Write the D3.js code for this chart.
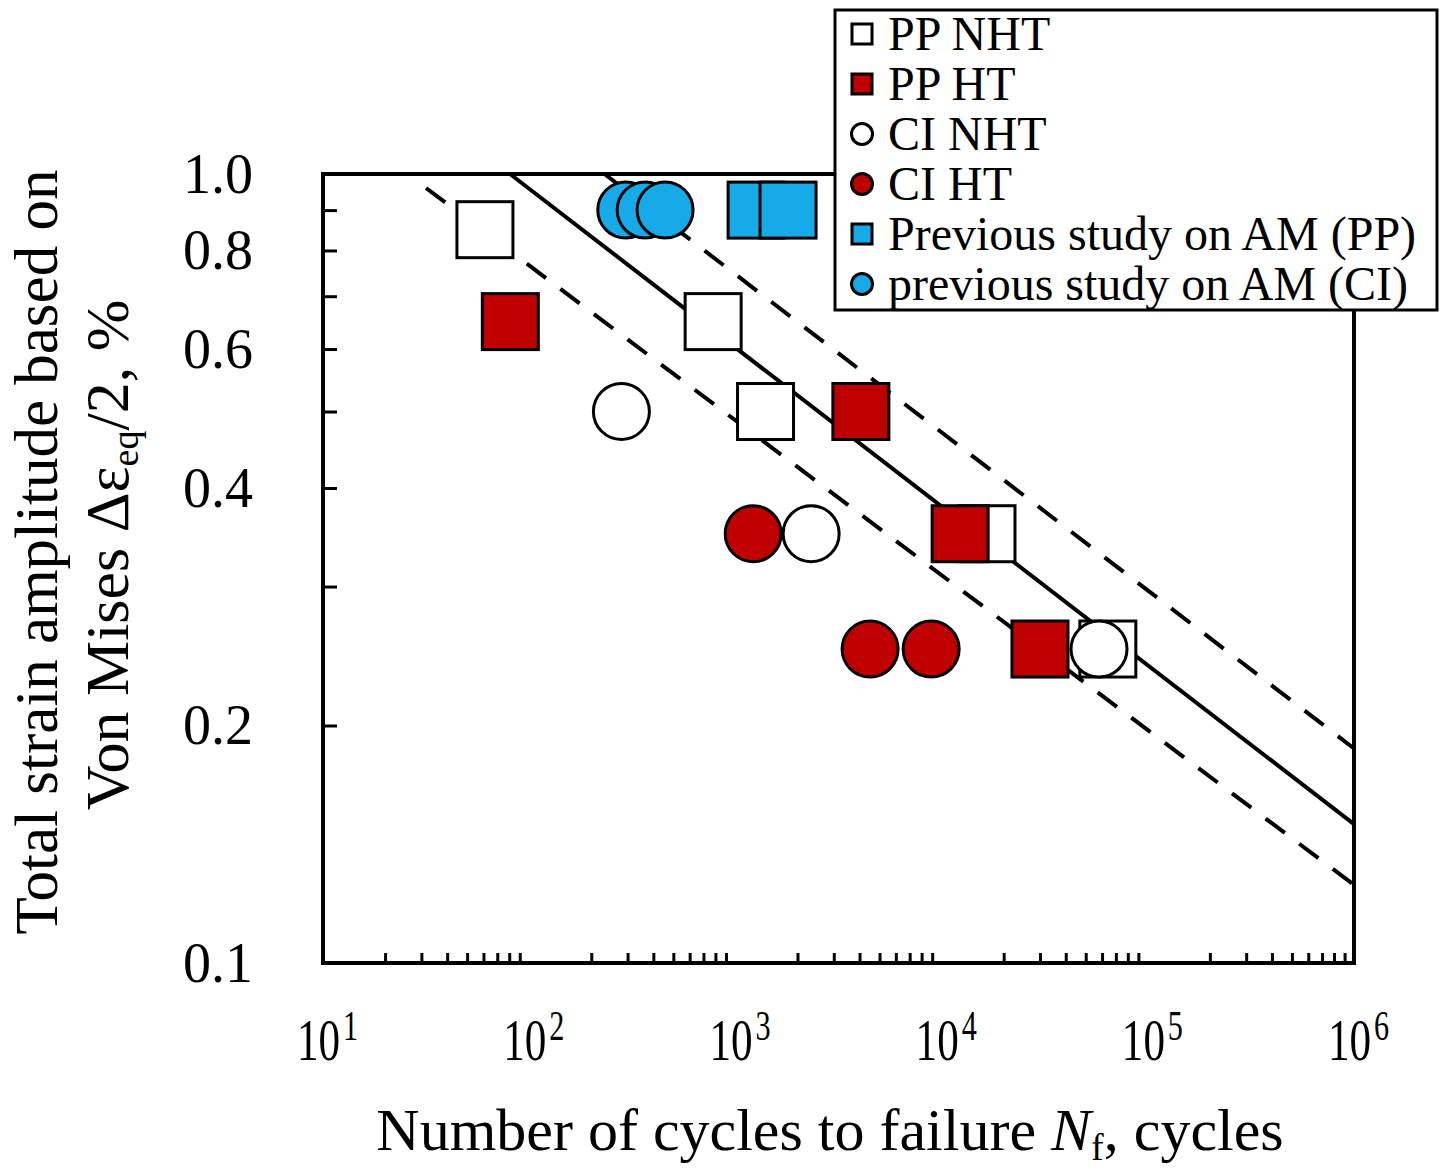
<!DOCTYPE html>
<html>
<head>
<meta charset="utf-8">
<script src="https://cdn.jsdelivr.net/npm/d3@7"></script>
<style>
  body { margin: 0; background: #fff; }
  text { font-family: "Liberation Serif", "Times New Roman", serif; fill: #000; }
</style>
</head>
<body>
<div id="root"></div>
<script>
var w = 1456, h = 1170;

// data (N = cycles, e = strain amplitude %)
var ppNhtN = [61, 780, 1400, 16600, 64000];
var ppNhtE = [0.85, 0.65, 0.50, 0.35, 0.25];
var ppHtN = [81, 4060, 12300, 30000];
var ppHtE = [0.65, 0.50, 0.35, 0.25];
var ciNhtN = [280, 2330, 58000];
var ciNhtE = [0.50, 0.35, 0.25];
var ciHtN = [1220, 4500, 8900];
var ciHtE = [0.35, 0.25, 0.25];
var prevPpN = [1260, 1800];
var prevPpE = [0.9, 0.9];
var prevCiN = [294, 365, 456];
var prevCiE = [0.9, 0.9, 0.9];

// fit line and scatter band end points
var fitN = [80.7, 1e6], fitE = [1.0, 0.150];
var upperN = [232, 1e6], upperE = [1.0, 0.187];
var lowerN = [31.6, 1e6], lowerE = [0.96, 0.1256];

var yLabelTicks = [0.1, 0.2, 0.4, 0.6, 0.8, 1.0];
var yMinorTicks = [0.2, 0.3, 0.4, 0.5, 0.6, 0.7, 0.8, 0.9];
var xDecades = [1, 2, 3, 4, 5, 6];

var legendNames = ['PP NHT', 'PP HT', 'CI NHT', 'CI HT', 'Previous study on AM (PP)', 'previous study on AM (CI)'];

var red = '#c00000', blue = '#16abe8';

var series = [
    { n: ppNhtN, e: ppNhtE, shape: 'square', fill: '#fff' },
    { n: ppHtN, e: ppHtE, shape: 'square', fill: red },
    { n: ciNhtN, e: ciNhtE, shape: 'circle', fill: '#fff' },
    { n: ciHtN, e: ciHtE, shape: 'circle', fill: red },
    { n: prevPpN, e: prevPpE, shape: 'square', fill: blue },
    { n: prevCiN, e: prevCiE, shape: 'circle', fill: blue }
];

var svg = d3.select('#root').append('svg').attr('width', w).attr('height', h);

var x = d3.scaleLog().domain([10, 1e6]).range([323, 1354]);
var y = d3.scaleLog().domain([0.1, 1]).range([963, 174]);

// x minor ticks (inside, bottom)
var xTicks = [];
xDecades.slice(0, 5).forEach(function (p) {
    for (var k = 2; k <= 9; k++) xTicks.push(k * Math.pow(10, p));
});
svg.append('g')
    .attr('transform', 'translate(0,963)')
    .call(d3.axisBottom(x).tickValues(xTicks).tickSize(-10).tickFormat(''))
    .call(function (g) {
        g.select('.domain').remove();
        g.selectAll('line').attr('stroke', '#000').attr('stroke-width', 3);
    });

// y minor ticks (inside, left)
svg.append('g')
    .attr('transform', 'translate(323,0)')
    .call(d3.axisLeft(y).tickValues(yMinorTicks).tickSize(-14).tickFormat(''))
    .call(function (g) {
        g.select('.domain').remove();
        g.selectAll('line').attr('stroke', '#000').attr('stroke-width', 3);
    });

// y labels
svg.append('g').selectAll('text')
    .data(yLabelTicks)
    .enter()
    .append('text')
    .attr('x', 253)
    .attr('y', function (d) { return y(d) + 19; })
    .attr('text-anchor', 'end')
    .attr('font-size', 56)
    .text(function (d) { return d.toFixed(1); });

// x labels 10^n
var xl = svg.append('g').selectAll('g')
    .data(xDecades)
    .enter()
    .append('g')
    .attr('transform', function (d) { return 'translate(' + (x(Math.pow(10, d)) - 26) + ',1060) scale(0.72,1)'; });
var xt = xl.append('text').attr('font-size', 60);
xt.append('tspan').text('10');
xt.append('tspan').attr('font-size', 42).attr('dx', 4).attr('dy', -20).text(function (d) { return d; });

// fit lines
var line = d3.line().x(function (d) { return x(d[0]); }).y(function (d) { return y(d[1]); });
var bands = [
    { n: fitN, e: fitE, dash: null },
    { n: upperN, e: upperE, dash: '24,18' },
    { n: lowerN, e: lowerE, dash: '24,18' }
];
svg.append('g').selectAll('path')
    .data(bands)
    .enter()
    .append('path')
    .attr('d', function (d) { return line(d.n.map(function (v, i) { return [v, d.e[i]]; })); })
    .attr('fill', 'none')
    .attr('stroke', '#000')
    .attr('stroke-width', 4)
    .attr('stroke-dasharray', function (d) { return d.dash; });

// markers
var side = 56;
series.forEach(function (s) {
    var pts = s.n.map(function (v, i) { return { n: v, e: s.e[i] }; });
    var g = svg.append('g');
    if (s.shape === 'square') {
        g.selectAll('rect').data(pts).enter().append('rect')
            .attr('x', function (d) { return x(d.n) - side / 2; })
            .attr('y', function (d) { return y(d.e) - side / 2; })
            .attr('width', side).attr('height', side)
            .attr('fill', s.fill).attr('stroke', '#000').attr('stroke-width', 3);
    } else {
        g.selectAll('circle').data(pts).enter().append('circle')
            .attr('cx', function (d) { return x(d.n); })
            .attr('cy', function (d) { return y(d.e); })
            .attr('r', 28)
            .attr('fill', s.fill).attr('stroke', '#000').attr('stroke-width', 3);
    }
});

// frame
svg.append('rect')
    .attr('x', 323).attr('y', 174)
    .attr('width', 1354 - 323).attr('height', 963 - 174)
    .attr('fill', 'none').attr('stroke', '#000').attr('stroke-width', 4);

// legend
var lg = svg.append('g');
lg.append('rect')
    .attr('x', 835).attr('y', 10).attr('width', 602).attr('height', 300)
    .attr('fill', '#fff').attr('stroke', '#000').attr('stroke-width', 3);
var rows = lg.selectAll('.row')
    .data(series)
    .enter()
    .append('g')
    .attr('transform', function (d, i) { return 'translate(862,' + (50 + i * 50) + ')'; });
rows.each(function (d) {
    var r = d3.select(this);
    if (d.shape === 'square') {
        r.append('rect').attr('x', -10).attr('y', -26).attr('width', 20).attr('height', 20)
            .attr('fill', d.fill).attr('stroke', '#000').attr('stroke-width', 3);
    } else {
        r.append('circle').attr('cx', 0).attr('cy', -16).attr('r', 10.5)
            .attr('fill', d.fill).attr('stroke', '#000').attr('stroke-width', 3);
    }
});
rows.append('text')
    .attr('x', 26)
    .attr('y', 0)
    .attr('font-size', 48)
    .text(function (d, i) { return legendNames[i]; });

// axis titles
var xTitle = svg.append('text')
    .attr('x', 830).attr('y', 1150)
    .attr('text-anchor', 'middle')
    .attr('font-size', 60);
xTitle.append('tspan').text('Number of cycles to failure ');
xTitle.append('tspan').attr('font-style', 'italic').text('N');
xTitle.append('tspan').attr('font-size', 38).attr('dy', 10).text('f');
xTitle.append('tspan').attr('dy', -10).text(', cycles');

svg.append('text')
    .attr('transform', 'translate(57,552) rotate(-90)')
    .attr('text-anchor', 'middle')
    .attr('font-size', 61)
    .text('Total strain amplitude based on');

var yt2 = svg.append('text')
    .attr('transform', 'translate(128,555) rotate(-90)')
    .attr('text-anchor', 'middle')
    .attr('font-size', 62);
yt2.append('tspan').text('Von Mises Δε');
yt2.append('tspan').attr('font-size', 38).attr('dy', 10).text('eq');
yt2.append('tspan').attr('dy', -10).text('/2, %');
</script>
</body>
</html>
